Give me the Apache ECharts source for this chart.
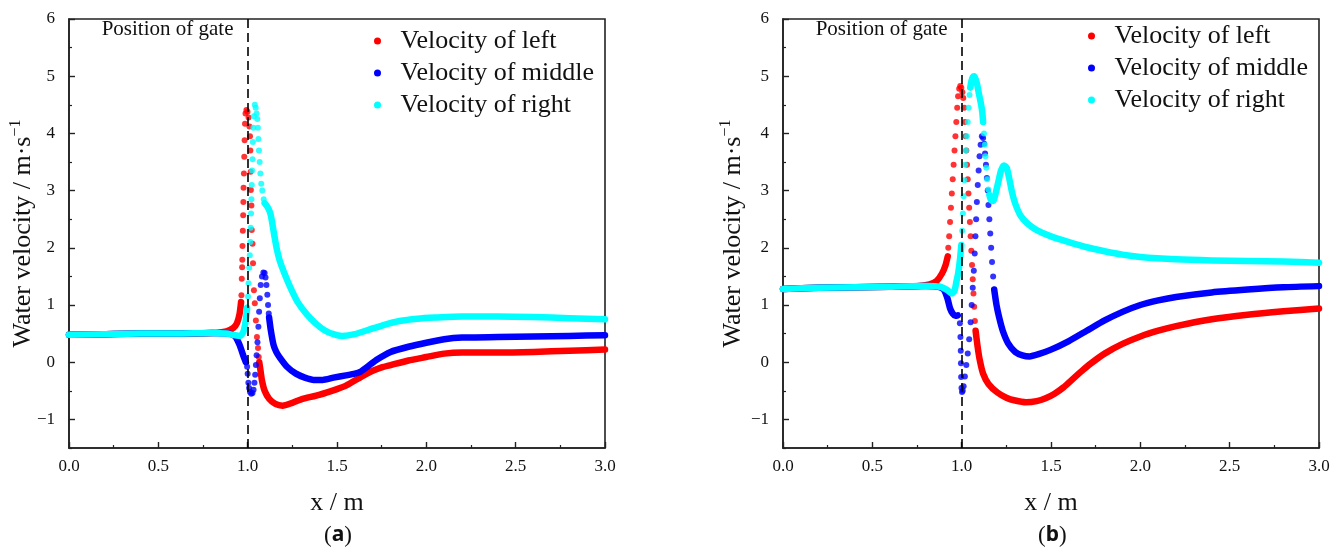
<!DOCTYPE html>
<html><head><meta charset="utf-8">
<script src="https://cdn.jsdelivr.net/npm/echarts@6/dist/echarts.min.js"></script>
<style>html,body{margin:0;padding:0;background:#fff}#c{width:1338px;height:551px}</style>
</head><body><div id="c"></div>
<script>
const seriesNames = ['Velocity of left', 'Velocity of middle', 'Velocity of right'];
const yTickValues = [-1, 0, 1, 2, 3, 4, 5, 6];
const yMinorTickValues = [-1.5, -0.5, 0.5, 1.5, 2.5, 3.5, 4.5, 5.5];
const gateX = 1.0;
const panelLabels = ['a', 'b'];

// ---- panel (a) ----
const leftA_pre = [[0,0.48],[0.2,0.49],[0.4,0.5],[0.6,0.5],[0.8,0.51],[0.88,0.54],[0.92,0.6],[0.94,0.68],[0.955,0.85],[0.963,1.05]];
const leftA_dots = [[0.965,1.17],[0.967,1.46],[0.969,1.66],[0.97,1.79],[0.971,2.03],[0.973,2.3],[0.975,2.57],[0.976,2.8],[0.977,3.05],[0.979,3.3],[0.981,3.59],[0.983,3.88],[0.985,4.17],[0.988,4.35],[0.993,4.41],[0.999,4.38],[1.005,4.28],[1.01,4.12],[1.013,3.95],[1.015,3.7],[1.017,3.33],[1.018,3.01],[1.021,2.74],[1.023,2.31],[1.027,2.07],[1.03,1.73],[1.035,1.26],[1.04,1.03],[1.046,0.73],[1.052,0.44],[1.058,0.25],[1.062,0.09]];
const leftA_post = [[1.065,0.0],[1.072,-0.15],[1.08,-0.32],[1.095,-0.5],[1.12,-0.64],[1.155,-0.73],[1.195,-0.76],[1.25,-0.71],[1.3,-0.65],[1.4,-0.57],[1.5,-0.47],[1.55,-0.41],[1.6,-0.32],[1.65,-0.23],[1.7,-0.15],[1.75,-0.09],[1.8,-0.05],[1.9,0.03],[2.0,0.09],[2.1,0.15],[2.2,0.17],[2.4,0.17],[2.6,0.18],[2.8,0.2],[3.0,0.22]];

const middleA_pre = [[0,0.48],[0.2,0.49],[0.4,0.5],[0.6,0.5],[0.8,0.51],[0.9,0.5],[0.93,0.45],[0.955,0.3],[0.975,0.12],[0.99,0.0]];
const middleA_dots = [[0.997,-0.08],[1.0,-0.2],[1.004,-0.36],[1.008,-0.45],[1.013,-0.52],[1.02,-0.55],[1.027,-0.54],[1.033,-0.48],[1.038,-0.36],[1.042,-0.22],[1.046,-0.05],[1.05,0.12],[1.055,0.35],[1.06,0.62],[1.064,0.88],[1.068,1.12],[1.073,1.35],[1.08,1.5],[1.088,1.57],[1.095,1.56],[1.1,1.48],[1.105,1.35],[1.11,1.18],[1.114,1.0],[1.118,0.85]];
const middleA_post = [[1.12,0.78],[1.13,0.55],[1.145,0.3],[1.16,0.18],[1.18,0.08],[1.22,-0.08],[1.27,-0.2],[1.32,-0.27],[1.37,-0.31],[1.42,-0.31],[1.48,-0.27],[1.55,-0.23],[1.6,-0.2],[1.63,-0.17],[1.67,-0.08],[1.72,0.04],[1.8,0.18],[1.9,0.27],[2.0,0.34],[2.1,0.4],[2.2,0.43],[2.4,0.44],[2.6,0.45],[2.8,0.46],[3.0,0.47]];

const rightA_pre = [[0,0.48],[0.2,0.49],[0.4,0.5],[0.6,0.5],[0.8,0.51],[0.88,0.5],[0.93,0.47],[0.96,0.46],[0.978,0.55],[0.99,0.75],[0.997,0.95]];
const rightA_dots = [[1.002,1.15],[1.005,1.38],[1.009,1.65],[1.012,1.87],[1.015,2.1],[1.017,2.35],[1.019,2.6],[1.021,2.85],[1.023,3.1],[1.025,3.35],[1.027,3.55],[1.029,3.85],[1.032,4.1],[1.035,4.3],[1.04,4.5],[1.045,4.45],[1.05,4.35],[1.054,4.25],[1.057,4.1],[1.06,3.9],[1.063,3.7],[1.067,3.5],[1.071,3.3],[1.076,3.12],[1.082,3.0],[1.09,2.85]];
const rightA_post = [[1.095,2.78],[1.11,2.72],[1.125,2.62],[1.135,2.48],[1.15,2.2],[1.165,1.95],[1.18,1.77],[1.21,1.52],[1.24,1.3],[1.28,1.05],[1.33,0.84],[1.38,0.68],[1.43,0.56],[1.48,0.49],[1.53,0.46],[1.6,0.49],[1.68,0.57],[1.76,0.65],[1.85,0.72],[1.95,0.76],[2.05,0.78],[2.2,0.8],[2.4,0.8],[2.6,0.79],[2.8,0.77],[3.0,0.75]];

// ---- panel (b) ----
const leftB_pre = [[0,1.28],[0.2,1.3],[0.4,1.31],[0.6,1.32],[0.75,1.33],[0.82,1.36],[0.86,1.42],[0.89,1.55],[0.91,1.7],[0.922,1.85]];
const leftB_dots = [[0.925,2.0],[0.93,2.2],[0.935,2.45],[0.94,2.7],[0.945,2.95],[0.95,3.2],[0.955,3.45],[0.96,3.7],[0.965,3.95],[0.97,4.2],[0.975,4.45],[0.98,4.65],[0.986,4.78],[0.992,4.83],[0.998,4.8],[1.004,4.72],[1.009,4.62],[1.014,4.45],[1.018,4.2],[1.022,3.95],[1.026,3.7],[1.03,3.45],[1.034,3.2],[1.038,2.95],[1.042,2.7],[1.046,2.45],[1.05,2.2],[1.054,1.95],[1.058,1.7],[1.062,1.45],[1.066,1.2],[1.07,0.97],[1.074,0.72]];
const leftB_post = [[1.078,0.55],[1.088,0.3],[1.1,0.06],[1.12,-0.2],[1.15,-0.38],[1.2,-0.53],[1.25,-0.62],[1.3,-0.67],[1.36,-0.7],[1.42,-0.68],[1.47,-0.63],[1.52,-0.55],[1.57,-0.44],[1.62,-0.3],[1.67,-0.16],[1.72,-0.03],[1.8,0.15],[1.9,0.32],[2.0,0.45],[2.1,0.55],[2.2,0.63],[2.4,0.75],[2.6,0.83],[2.8,0.89],[3.0,0.94]];

const middleB_pre = [[0,1.28],[0.2,1.3],[0.4,1.31],[0.6,1.32],[0.8,1.33],[0.87,1.32],[0.9,1.27],[0.92,1.12],[0.935,0.94],[0.95,0.85],[0.965,0.81],[0.978,0.82]];
const middleB_dots = [[0.99,0.68],[0.993,0.44],[0.995,0.2],[0.996,-0.02],[0.997,-0.26],[0.999,-0.45],[1.002,-0.52],[1.006,-0.5],[1.011,-0.42],[1.018,-0.25],[1.026,-0.05],[1.034,0.15],[1.042,0.4],[1.05,0.7],[1.056,1.0],[1.062,1.3],[1.068,1.6],[1.073,1.9],[1.077,2.2],[1.081,2.5],[1.085,2.8],[1.09,3.1],[1.095,3.35],[1.1,3.6],[1.106,3.8],[1.113,3.95],[1.12,3.92],[1.126,3.82],[1.131,3.65],[1.136,3.45],[1.141,3.22],[1.146,3.0],[1.15,2.75],[1.155,2.5],[1.16,2.25],[1.165,2.0],[1.17,1.75],[1.176,1.5]];
const middleB_post = [[1.182,1.27],[1.195,1.0],[1.21,0.78],[1.23,0.55],[1.26,0.33],[1.3,0.18],[1.34,0.12],[1.38,0.1],[1.43,0.14],[1.5,0.22],[1.6,0.37],[1.7,0.55],[1.8,0.73],[1.9,0.88],[2.0,1.0],[2.1,1.08],[2.2,1.14],[2.4,1.22],[2.6,1.27],[2.8,1.31],[3.0,1.33]];

const rightB_pre = [[0,1.28],[0.2,1.3],[0.4,1.31],[0.6,1.32],[0.8,1.33],[0.88,1.32],[0.92,1.26],[0.945,1.2],[0.96,1.25],[0.97,1.4],[0.98,1.55],[0.99,1.78],[0.998,2.05]];
const rightB_dotsUp = [[1.003,2.3],[1.007,2.6],[1.011,2.9],[1.015,3.18],[1.019,3.45],[1.024,3.7],[1.029,3.95],[1.034,4.2],[1.039,4.45],[1.044,4.67]];
const rightB_peak = [[1.048,4.8],[1.055,4.92],[1.063,4.99],[1.07,5.0],[1.078,4.95],[1.087,4.85],[1.096,4.7],[1.106,4.55],[1.115,4.38],[1.12,4.2]];
const rightB_dotsDown = [[1.125,4.0],[1.129,3.8],[1.133,3.6],[1.138,3.4],[1.143,3.2],[1.149,3.02]];
const rightB_post = [[1.155,2.92],[1.165,2.83],[1.177,2.82],[1.19,2.95],[1.205,3.15],[1.22,3.35],[1.237,3.44],[1.252,3.4],[1.267,3.2],[1.282,2.97],[1.3,2.77],[1.33,2.56],[1.37,2.42],[1.42,2.31],[1.5,2.2],[1.6,2.1],[1.7,2.01],[1.8,1.94],[1.9,1.88],[2.0,1.84],[2.2,1.8],[2.4,1.78],[2.6,1.77],[2.8,1.76],[3.0,1.74]];

// ---- style ----
const FONT = 'Liberation Serif';
const colors = ['#ff0000', '#0000ff', '#00ffff'];
const curves = [
  [ {lines: [leftA_pre, leftA_post], dots: [leftA_dots]},
    {lines: [middleA_pre, middleA_post], dots: [middleA_dots]},
    {lines: [rightA_pre, rightA_post], dots: [rightA_dots]} ],
  [ {lines: [leftB_pre, leftB_post], dots: [leftB_dots]},
    {lines: [middleB_pre, middleB_post], dots: [middleB_dots]},
    {lines: [rightB_pre, rightB_peak, rightB_post], dots: [rightB_dotsUp, rightB_dotsDown]} ]
];
const gridLeft = [69, 783];
const gridTop = 19, gridW = 536, gridH = 429;

const grids = [], xAxes = [], yAxes = [], series = [], legends = [];
const fmtY = v => v < 0 ? '\u2212' + Math.abs(v) : String(v);

[0, 1].forEach(p => {
  grids.push({left: gridLeft[p], top: gridTop, width: gridW, height: gridH, show: true,
    borderColor: '#222', borderWidth: 1.6, backgroundColor: 'transparent'});
  xAxes.push({type: 'value', gridIndex: p, min: 0, max: 3, interval: 0.5, position: 'bottom',
    axisLine: {onZero: false, lineStyle: {color: '#222', width: 1.6}},
    axisTick: {inside: true, length: 6, lineStyle: {color: '#222', width: 1.4}},
    minorTick: {show: true, splitNumber: 2, length: 3, lineStyle: {color: '#222', width: 1.2}},
    splitLine: {show: false},
    axisLabel: {fontFamily: FONT, fontSize: 17, color: '#111', margin: 10, formatter: v => v.toFixed(1)},
    name: 'x / m', nameLocation: 'middle', nameGap: 42, nameMoveOverlap: false,
    nameTextStyle: {fontFamily: FONT, fontSize: 26, color: '#111'}});
  yAxes.push({type: 'value', gridIndex: p, min: -1.5, max: 6, position: 'left',
    axisLine: {onZero: false, lineStyle: {color: '#222', width: 1.6}},
    axisTick: {inside: true, length: 6, customValues: yTickValues, lineStyle: {color: '#222', width: 1.4}},
    splitLine: {show: false},
    axisLabel: {fontFamily: FONT, fontSize: 17, color: '#111', margin: 14, customValues: yTickValues, formatter: fmtY},
    name: 'Water velocity / m\u00b7s{sup|\u22121}', nameLocation: 'middle', nameRotate: 90,
    nameGap: p === 0 ? 31 : 35, nameMoveOverlap: false,
    nameTextStyle: {fontFamily: FONT, fontSize: 26, color: '#111',
      rich: {sup: {fontFamily: FONT, fontSize: 16, color: '#111', verticalAlign: 'top', padding: [0, 0, 14, 0]}}}});
  yAxes.push({type: 'value', gridIndex: p, min: -1.5, max: 6, position: 'left',
    axisLine: {show: false, onZero: false}, splitLine: {show: false}, axisLabel: {show: false},
    axisTick: {inside: true, length: 3, customValues: yMinorTickValues, lineStyle: {color: '#222', width: 1.2}}});

  curves[p].forEach((c, i) => {
    c.lines.forEach((seg, k) => {
      const s = {type: 'line', name: seriesNames[i], xAxisIndex: p, yAxisIndex: p * 2, data: seg,
        showSymbol: false, symbol: 'none', smooth: 0.2, silent: true,
        lineStyle: {color: colors[i], width: 6.5, cap: 'round', join: 'round'},
        itemStyle: {color: colors[i]}, z: 2 + i};
      if (i === 2 && k === 0) {
        s.markLine = {silent: true, symbol: ['none', 'none'], label: {show: false},
          lineStyle: {color: '#000', type: [9, 5], width: 1.6}, data: [{xAxis: gateX}]};
      }
      series.push(s);
    });
    c.dots.forEach(seg => {
      series.push({type: 'scatter', name: seriesNames[i], xAxisIndex: p, yAxisIndex: p * 2, data: seg,
        symbol: 'circle', symbolSize: 6, silent: true, itemStyle: {color: colors[i]}, z: 2 + i});
    });
  });

  legends.push({orient: 'vertical', left: p === 0 ? 374 : 1088, top: p === 0 ? 27 : 22, padding: 0,
    itemWidth: 36, itemHeight: 7, itemGap: 4, selectedMode: false,
    textStyle: {fontFamily: FONT, fontSize: 26, color: '#111', lineHeight: 28},
    data: seriesNames.map(n => ({name: n, icon: 'circle'}))});
});

const graphics = [];
[0, 1].forEach(p => {
  graphics.push({type: 'text', left: gridLeft[p] + (gateX / 3) * gridW - 10 - 136, top: 19,
    style: {text: 'Position of gate', font: '21px "' + FONT + '"', fill: '#111'}});
  graphics.push({type: 'text', left: gridLeft[p] + gridW / 2 - 13, top: 524,
    style: {text: '{p|(}{b|' + panelLabels[p] + '}{p|)}', rich: {
      p: {fontFamily: FONT, fontSize: 23, fill: '#111'},
      b: {fontFamily: 'Noto Sans', fontSize: 21, fontWeight: 'bold', fill: '#111'}}}});
});

const chart = echarts.init(document.getElementById('c'), null, {renderer: 'canvas'});
chart.setOption({
  animation: false,
  backgroundColor: '#fff',
  grid: grids, xAxis: xAxes, yAxis: yAxes, series: series, legend: legends,
  graphic: graphics
});
</script></body></html>
